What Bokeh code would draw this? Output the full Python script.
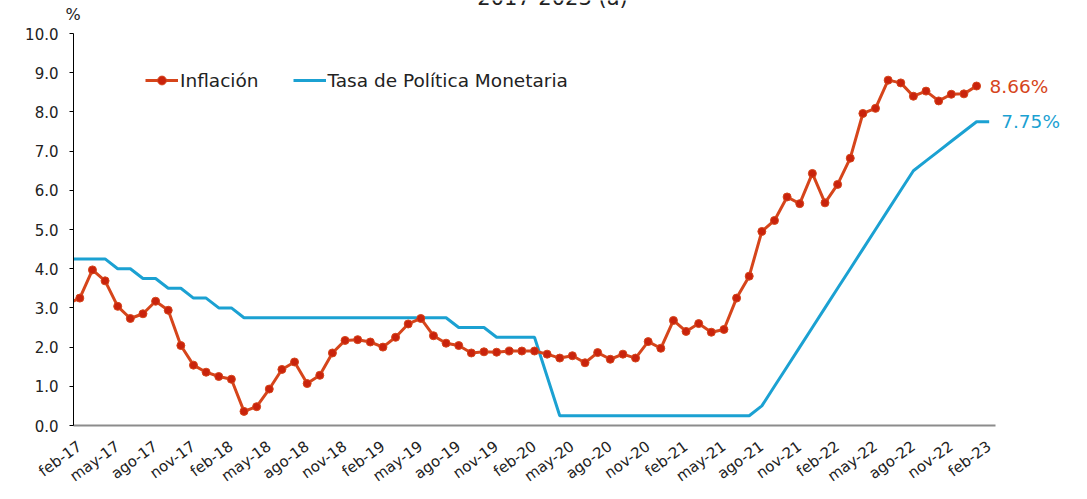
from bokeh.plotting import figure
from bokeh.models import (Range1d, FixedTicker, PrintfTickFormatter, Label, Legend,
                          LegendItem, BoxAnnotation)
from bokeh.embed import file_html
from bokeh.resources import INLINE

# Months ene-17 .. feb-23
meses = [f"{m}-{y}" for y in range(17, 23) for m in
         ["ene", "feb", "mar", "abr", "may", "jun", "jul", "ago", "sep", "oct", "nov", "dic"]] + ["ene-23", "feb-23"]

# Inflación (%), ene-17 .. ene-23
inflacion = [3.10, 3.25, 3.97, 3.69, 3.04, 2.73, 2.85, 3.17, 2.94, 2.04, 1.54, 1.36,
             1.25, 1.18, 0.36, 0.48, 0.93, 1.43, 1.62, 1.07, 1.28, 1.85, 2.17, 2.19,
             2.13, 2.00, 2.25, 2.59, 2.73, 2.29, 2.10, 2.04, 1.85, 1.88, 1.87, 1.90,
             1.90, 1.90, 1.82, 1.72, 1.78, 1.60, 1.86, 1.69, 1.82, 1.72, 2.14, 1.97,
             2.68, 2.40, 2.60, 2.38, 2.45, 3.25, 3.81, 4.95, 5.23, 5.83, 5.66, 6.43,
             5.68, 6.15, 6.82, 7.96, 8.09, 8.81, 8.74, 8.40, 8.53, 8.28, 8.45, 8.46,
             8.66]

# Tasa de Política Monetaria (%), ene-17 .. feb-23
tpm = [4.25, 4.25, 4.25, 4.25, 4.00, 4.00, 3.75, 3.75, 3.50, 3.50, 3.25, 3.25,
       3.00, 3.00, 2.75, 2.75, 2.75, 2.75, 2.75, 2.75, 2.75, 2.75, 2.75, 2.75,
       2.75, 2.75, 2.75, 2.75, 2.75, 2.75, 2.75, 2.50, 2.50, 2.50, 2.25, 2.25,
       2.25, 2.25, 1.25, 0.25, 0.25, 0.25, 0.25, 0.25, 0.25, 0.25, 0.25, 0.25,
       0.25, 0.25, 0.25, 0.25, 0.25, 0.25, 0.25, 0.50, 1.00, 1.50, 2.00, 2.50,
       3.00, 3.50, 4.00, 4.50, 5.00, 5.50, 6.00, 6.50, 6.75, 7.00, 7.25, 7.50,
       7.75, 7.75]

etiquetas = ["feb-17", "may-17", "ago-17", "nov-17", "feb-18", "may-18", "ago-18", "nov-18",
             "feb-19", "may-19", "ago-19", "nov-19", "feb-20", "may-20", "ago-20", "nov-20",
             "feb-21", "may-21", "ago-21", "nov-21", "feb-22", "may-22", "ago-22", "nov-22", "feb-23"]

titulo = "2017-2023 (a)"
unidad = "%"

FONT = "DejaVu Sans"
RED = "#D6451B"
DOT = "#C9230C"
BLUE = "#1BA1D2"
TXT = "#222222"

# ---- layout (pixels) ----
W, H = 1085, 497
AXIS_X = 73.0            # pixel x of the value axis
BOTTOM_Y = 425.0         # pixel y of value 0
PX_PER_CAT = 922.0 / 73.0
PX_PER_UNIT = 39.2


def px_x(px):
    return 0.5 + (px - AXIS_X) / PX_PER_CAT


def px_y(py):
    return (BOTTOM_Y - py) / PX_PER_UNIT


x_inf = list(range(len(inflacion)))
x_tpm = list(range(len(tpm)))
tick_pos = [meses.index(e) for e in etiquetas]
x_lo, x_hi = 0.5, len(tpm) - 0.5

p = figure(width=W, height=H, frame_width=W, frame_height=H,
           output_backend="svg", toolbar_location=None,
           x_range=Range1d(px_x(0), px_x(W)), y_range=Range1d(px_y(H), px_y(0)),
           min_border_left=0, min_border_right=0, min_border_top=0, min_border_bottom=0)
p.outline_line_color = None
p.xgrid.visible = False
p.ygrid.visible = False
p.background_fill_color = "white"
p.border_fill_color = "white"

r_tpm = p.line(x_tpm, tpm, line_color=BLUE, line_width=3)
r_inf_l = p.line(x_inf, inflacion, line_color=RED, line_width=3)
r_inf_s = p.scatter(x_inf, inflacion, size=8, fill_color=DOT, line_color=RED, line_width=1)

# white mask left of the value axis (the chart area starts at the axis)
mask = BoxAnnotation(right=x_lo, fill_color="white", fill_alpha=1.0, line_color=None,
                     level="glyph")
p.renderers.append(mask)

# x axis (category axis at value 0)
xa = p.xaxis[0]
xa.fixed_location = 0
xa.bounds = (x_lo, x_hi)
xa.ticker = FixedTicker(ticks=tick_pos)
xa.major_label_overrides = {i: meses[i] for i in tick_pos}
xa.major_label_orientation = 0.63
xa.axis_line_color = "#8c8c8c"
xa.axis_line_width = 2
xa.major_tick_line_color = None
xa.minor_tick_line_color = None
xa.major_label_text_font = FONT
xa.major_label_text_font_size = "15px"
xa.major_label_text_color = TXT
xa.major_label_standoff = 13

# y axis
ya = p.yaxis[0]
ya.fixed_location = x_lo
ya.bounds = (0, 10)
ya.ticker = FixedTicker(ticks=list(range(0, 11)))
ya.formatter = PrintfTickFormatter(format="%.1f")
ya.axis_line_color = "black"
ya.axis_line_width = 1
ya.major_tick_out = 4
ya.major_tick_in = 0
ya.major_tick_line_color = "black"
ya.minor_tick_line_color = None
ya.major_label_text_font = FONT
ya.major_label_text_font_size = "15px"
ya.major_label_text_color = TXT
ya.major_label_standoff = 11

legend = Legend(items=[LegendItem(label="Inflación", renderers=[r_inf_l, r_inf_s]),
                       LegendItem(label="Tasa de Política Monetaria", renderers=[r_tpm])],
                orientation="horizontal", location=(145, H - 91),
                label_text_font=FONT, label_text_font_size="18.5px", label_text_color=TXT,
                glyph_width=33, glyph_height=22, label_height=22, label_standoff=2,
                spacing=34, padding=0, margin=0,
                border_line_color=None, background_fill_alpha=0)
p.add_layout(legend)

p.add_layout(Label(x=x_inf[-1], y=inflacion[-1], x_offset=13, text=f"{inflacion[-1]:.2f}%",
                   text_baseline="middle", text_align="left", text_font=FONT,
                   text_font_size="18.5px", text_color=RED))
p.add_layout(Label(x=x_tpm[-1], y=tpm[-1], x_offset=12, text=f"{tpm[-1]:.2f}%",
                   text_baseline="middle", text_align="left", text_font=FONT,
                   text_font_size="18.5px", text_color=BLUE))
p.add_layout(Label(x=px_x(72.5), y=px_y(13.7), text=unidad, text_baseline="middle",
                   text_align="center", text_font=FONT, text_font_size="16px", text_color=TXT))
p.add_layout(Label(x=px_x(552), y=px_y(-2.5), text=titulo, text_baseline="alphabetic",
                   text_align="center", text_font=FONT, text_font_size="21px", text_color=TXT))

open("out.html", "w").write(file_html(p, INLINE))
